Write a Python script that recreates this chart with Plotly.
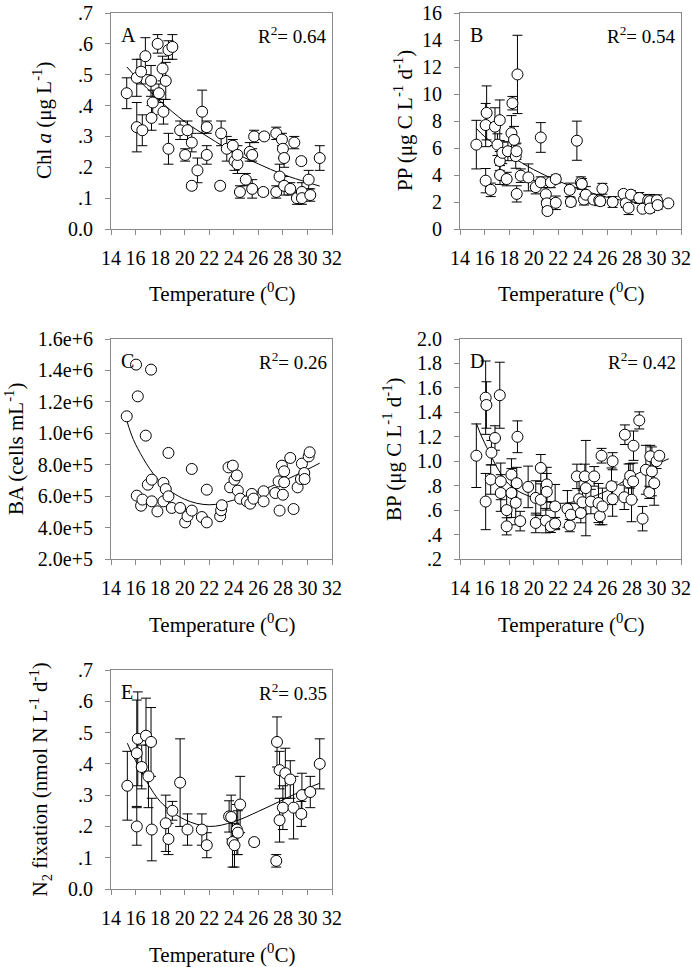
import plotly.graph_objects as go

# ---------------- Panel A: Chl a ----------------
A_temp = [15.28, 16.1, 16.1, 16.55, 16.45, 16.8, 17.26, 17.3, 17.4, 17.8, 17.9, 18.2, 18.46, 18.27,
          18.68, 19.0, 18.68, 19.63, 20.04, 20.23, 20.58, 20.58, 21.04, 21.42, 21.8, 21.8, 22.89,
          22.97, 23.43, 23.92, 24.06, 24.3, 24.3, 24.5, 24.98, 25.3, 25.5, 25.5, 25.66, 26.4, 26.48,
          27.46, 27.46, 27.73, 27.92, 28.0, 28.1, 28.1, 28.6, 28.93, 29.14, 29.5, 29.55, 29.55,
          30.1, 30.23, 31.0]
A_chl = [0.44, 0.49, 0.33, 0.32, 0.51, 0.56, 0.48, 0.36, 0.41, 0.60, 0.44, 0.52, 0.48, 0.38,
         0.58, 0.59, 0.26, 0.32, 0.24, 0.32, 0.28, 0.14, 0.19, 0.38, 0.33, 0.24, 0.14,
         0.31, 0.26, 0.27, 0.22, 0.21, 0.24, 0.12, 0.16, 0.25, 0.24, 0.13, 0.30, 0.12, 0.30,
         0.31, 0.12, 0.17, 0.29, 0.26, 0.23, 0.14, 0.13, 0.28, 0.10, 0.22, 0.12, 0.10,
         0.16, 0.11, 0.23]
A_err = [0.05, 0.06, 0.08, 0.05, 0.04, 0.06, 0.05, 0.04, 0.04, 0.03, 0.03, 0.04, 0.06, 0.04,
         0.03, 0.04, 0.05, 0.03, 0.02, 0.03, 0.03, 0.01, 0.04, 0.07, 0.02, 0.03, 0.01,
         0.04, 0.04, 0.02, 0.03, 0.03, 0.03, 0.02, 0.02, 0.03, 0.02, 0.03, 0.02, 0.01, 0.01,
         0.02, 0.02, 0.04, 0.02, 0.03, 0.03, 0.03, 0.02, 0.02, 0.02, 0.01, 0.03, 0.02,
         0.03, 0.02, 0.04]
A_fit_temp = [15.3, 16, 18, 20, 22, 24, 26, 28, 30, 31]
A_fit = [0.525, 0.494, 0.415, 0.348, 0.296, 0.248, 0.211, 0.177, 0.151, 0.139]

# ---------------- Panel B: PP ----------------
B_temp = [15.33, 16.09, 16.09, 16.17, 16.5, 16.85, 17.05, 17.24, 17.24, 17.26, 17.45, 17.8, 17.9,
          18.19, 18.27, 18.4, 18.54, 18.6, 18.62, 18.68, 18.95, 19.57, 20.17, 20.58, 20.58, 20.99,
          21.07, 21.12, 21.4, 21.8, 21.8, 22.94, 23.03, 23.52, 23.84, 23.92, 24.1, 24.25, 24.87,
          25.34, 25.42, 25.6, 26.43, 27.32, 27.5, 27.73, 27.92, 28.6, 28.87, 29.33, 29.47, 29.47,
          30.04, 30.1, 30.97]
B_pp = [6.25, 3.58, 7.7, 8.6, 2.9, 7.58, 6.25, 8.06, 5.04, 4.0, 5.64, 3.7, 5.76,
        7.1, 9.32, 6.6, 5.4, 5.76, 2.6, 11.45, 3.95, 3.82, 3.1, 3.46, 6.78, 2.57,
        1.9, 1.33, 3.46, 1.94, 3.7, 2.9, 2.0, 6.54, 3.46, 3.34, 2.18, 2.54, 2.18,
        2.13, 2.06, 2.98, 2.0, 2.6, 1.9, 1.57, 2.54, 2.3, 1.5, 2.13, 2.06, 1.52,
        2.13, 1.77, 1.9]
B_err = [1.8, 0.9, 1.6, 2.0, 0.5, 1.4, 0.8, 1.5, 0.7, 0.7, 0.8, 0.5, 0.7,
         1.3, 0.5, 1.0, 0.9, 0.6, 0.6, 2.9, 0.5, 1.0, 0.5, 0.4, 1.1, 0.5,
         0.3, 0.2, 0.4, 0.5, 0.3, 0.5, 0.3, 1.45, 0.4, 0.4, 0.4, 0.6, 0.3,
         0.4, 0.3, 0.4, 0.4, 0.2, 0.3, 0.5, 0.3, 0.4, 0.2, 0.4, 0.5, 0.3,
         0.4, 0.3, 0.1]
B_fit_temp = [15.33, 16, 18, 20, 22, 24, 26, 28, 30, 31]
B_fit = [7.45, 6.85, 5.5, 4.4, 3.55, 2.87, 2.35, 2.0, 1.76, 1.67]

# ---------------- Panel C: BA ----------------
C_temp = [15.28, 16.04, 16.1, 16.18, 16.45, 16.56, 16.83, 17.0, 17.26, 17.32, 17.32, 17.78, 18.27,
          18.27, 18.46, 18.68, 18.68, 18.95, 19.63, 20.04, 20.23, 20.58, 20.58, 21.4, 21.8, 21.8,
          22.89, 22.97, 23.03, 23.57, 23.7, 23.92, 24.06, 24.25, 24.33, 24.52, 25.07, 25.34, 25.47,
          25.61, 26.43, 26.43, 27.38, 27.65, 27.73, 27.92, 28.0, 28.1, 28.1, 28.6, 28.87, 29.2,
          29.47, 29.55, 29.74, 29.77, 30.1, 30.18]
C_ba = [1.108e6, 1.437e6, 6.03e5, 1.235e6, 5.39e5, 5.78e5, 9.85e5, 6.73e5, 1.405e6, 7.05e5, 5.67e5,
        5.03e5, 6.84e5, 5.67e5, 6.45e5, 5.99e5, 8.75e5, 5.25e5, 5.25e5, 4.33e5, 4.72e5, 5.08e5,
        7.73e5, 4.67e5, 4.33e5, 6.41e5, 4.72e5, 5.1e5, 5.42e5, 7.83e5, 6.56e5, 7.94e5, 7.05e5,
        7.32e5, 6.35e5, 5.84e5, 5.67e5, 5.52e5, 6.14e5, 5.84e5, 6.31e5, 5.67e5, 6.2e5, 6.94e5,
        5.08e5, 7.94e5, 6.09e5, 7.58e5, 6.88e5, 8.43e5, 5.18e5, 6.56e5, 7.09e5, 8.07e5, 7.47e5,
        7.09e5, 8.53e5, 8.79e5]
C_fit_temp = [15.28, 16, 18, 20, 22, 24, 26, 28, 30, 31]
C_fit = [1.082e6, 9.3e5, 6.9e5, 5.8e5, 5.45e5, 5.75e5, 6.3e5, 6.95e5, 7.7e5, 8.1e5]

# ---------------- Panel D: BP ----------------
D_temp = [15.33, 16.09, 16.15, 16.09, 16.5, 16.56, 16.85, 17.24, 17.32, 17.32, 17.8, 17.8, 18.19,
          18.19, 18.54, 18.62, 18.68, 18.9, 19.55, 20.17, 20.17, 20.58, 20.58, 20.99, 21.07, 21.07,
          21.4, 21.75, 21.75, 22.75, 22.94, 23.03, 23.52, 23.7, 23.84, 23.98, 24.17, 24.25, 24.66,
          24.93, 25.28, 25.39, 25.53, 25.6, 26.34, 26.43, 26.43, 27.38, 27.43, 27.73, 27.86, 27.97,
          28.1, 28.13, 28.6, 28.87, 29.14, 29.42, 29.5, 29.63, 29.82, 30.01, 30.23]
D_bp = [1.045, 1.52, 1.46, 0.67, 0.85, 1.07, 1.19, 1.54, 0.835, 0.74, 0.467, 0.6, 0.89,
        0.74, 0.66, 0.82, 1.2, 0.51, 0.79, 0.495, 0.7, 0.945, 0.685, 0.514, 0.81, 0.75,
        0.467, 0.63, 0.49, 0.61, 0.473, 0.563, 0.876, 0.69, 0.576, 0.664, 0.876, 0.78, 0.67,
        0.876, 0.658, 0.55, 1.045, 0.63, 0.795, 1.0, 0.69, 0.705, 1.217, 0.827, 0.88, 0.685,
        0.835, 1.127, 1.334, 0.53, 0.93, 0.745, 1.04, 0.917, 0.82, 1.0, 1.045]
D_err = [0.26, 0.3, 0.19, 0.23, 0.12, 0.1, 0.1, 0.27, 0.15, 0.15, 0.07, 0.15, 0.13,
         0.2, 0.18, 0.13, 0.13, 0.08, 0.17, 0.08, 0.14, 0.11, 0.13, 0.1, 0.14, 0.15,
         0.05, 0.18, 0.05, 0.15, 0.05, 0.09, 0.1, 0.15, 0.08, 0.1, 0.1, 0.39, 0.1,
         0.08, 0.16, 0.07, 0.06, 0.15, 0.15, 0.07, 0.14, 0.1, 0.08, 0.15, 0.1, 0.18,
         0.15, 0.12, 0.07, 0.1, 0.2, 0.05, 0.09, 0.2, 0.18, 0.06, 0.02]
D_fit_temp = [15.33, 16, 18, 20, 22, 24, 26, 28, 30, 31]
D_fit = [1.31, 1.15, 0.81, 0.70, 0.655, 0.685, 0.76, 0.875, 0.975, 1.02]

# ---------------- Panel E: N2 fixation ----------------
E_temp = [15.33, 16.1, 16.1, 16.18, 16.5, 16.85, 17.05, 17.26, 17.32, 18.46, 18.68, 19.0, 19.63,
          20.23, 21.4, 21.8, 23.62, 23.79, 23.9, 24.06, 24.25, 24.33, 24.52, 25.66, 27.46, 27.52,
          27.73, 27.73, 28.0, 28.2, 28.6, 28.87, 29.5, 29.55, 30.23, 31.0]
E_n2 = [0.33, 0.2, 0.434, 0.48, 0.39, 0.49, 0.36, 0.47, 0.19, 0.21, 0.16, 0.25, 0.34,
        0.19, 0.19, 0.14, 0.232, 0.23, 0.15, 0.14, 0.19, 0.18, 0.27, 0.15, 0.09, 0.47,
        0.38, 0.22, 0.26, 0.37, 0.35, 0.26, 0.24, 0.30, 0.31, 0.40]
E_err = [0.11, 0.06, 0.17, 0.15, 0.07, 0.12, 0.1, 0.11, 0.1, 0.09, 0.05, 0.03, 0.14,
         0.05, 0.05, 0.04, 0.05, 0.07, 0.08, 0.07, 0.08, 0.07, 0.09, 0.01, 0.02, 0.08,
         0.06, 0.07, 0.07, 0.08, 0.06, 0.1, 0.04, 0.07, 0.05, 0.08]
E_fit_temp = [15.33, 16, 18, 20, 22, 24, 26, 28, 30, 31]
E_fit = [0.466, 0.41, 0.28, 0.222, 0.20, 0.215, 0.248, 0.285, 0.322, 0.338]

# ---------------- Labels ----------------
x_ticks = [14, 16, 18, 20, 22, 24, 26, 28, 30, 32]
A_ticks = [0, 0.1, 0.2, 0.3, 0.4, 0.5, 0.6, 0.7]
A_ticktext = ["0.0", ".1", ".2", ".3", ".4", ".5", ".6", ".7"]
B_ticks = [0, 2, 4, 6, 8, 10, 12, 14, 16]
C_ticks = [2e5, 4e5, 6e5, 8e5, 1.0e6, 1.2e6, 1.4e6, 1.6e6]
C_ticktext = ["2.0e+5", "4.0e+5", "6.0e+5", "8.0e+5", "1.0e+6", "1.2e+6", "1.4e+6", "1.6e+6"]
D_ticks = [0.2, 0.4, 0.6, 0.8, 1.0, 1.2, 1.4, 1.6, 1.8, 2.0]
D_ticktext = [".2", ".4", ".6", ".8", "1.0", "1.2", "1.4", "1.6", "1.8", "2.0"]
E_ticks = A_ticks
E_ticktext = A_ticktext

letters = ["A", "B", "C", "D", "E"]
r2_labels = ["R<sup>2</sup>= 0.64", "R<sup>2</sup>= 0.54", "R<sup>2</sup>= 0.26",
             "R<sup>2</sup>= 0.42", "R<sup>2</sup>= 0.35"]
y_titles = ["Chl <i>a</i> (μg L<sup>-1</sup>)",
            "PP (μg C L<sup>-1</sup> d<sup>-1</sup>)",
            "BA (cells mL<sup>-1</sup>)",
            "BP (μg C L<sup>-1</sup> d<sup>-1</sup>)",
            "N<sub>2</sub> fixation (nmol N L<sup>-1</sup> d<sup>-1</sup>)"]
x_title = "Temperature (<sup>0</sup>C)"

# ---------------- Figure ----------------
W, H = 692, 967
FONT = "Liberation Serif, Times New Roman, serif"
AXC = "#8a8a8a"

# pixel boxes: (left, right, top, bottom)
boxes = [(111, 332, 13, 229), (460, 681, 13, 229),
         (111, 332, 339, 559), (460, 681, 339, 559),
         (111, 332, 670, 889)]
ytitle_x = [43, 404, 15, 393, 40]

panels = [
    (A_temp, A_chl, A_err, A_fit_temp, A_fit, [0, 0.7], A_ticks, A_ticktext),
    (B_temp, B_pp, B_err, B_fit_temp, B_fit, [0, 16], B_ticks, [str(v) for v in B_ticks]),
    (C_temp, C_ba, None, C_fit_temp, C_fit, [2e5, 1.6e6], C_ticks, C_ticktext),
    (D_temp, D_bp, D_err, D_fit_temp, D_fit, [0.2, 2.0], D_ticks, D_ticktext),
    (E_temp, E_n2, E_err, E_fit_temp, E_fit, [0, 0.7], E_ticks, E_ticktext),
]

fig = go.Figure()
annotations = []
layout_axes = {}

for i, (xs, ys, errs, ft, fy, yr, yt, ytt) in enumerate(panels):
    n = "" if i == 0 else str(i + 1)
    xa, ya = "x" + n, "y" + n
    L, R, T, B = boxes[i]
    xdom = [L / W, R / W]
    ydom = [1 - B / H, 1 - T / H]

    fig.add_trace(go.Scatter(x=ft, y=fy, mode="lines", line=dict(color="black", width=1, shape="spline"),
                             xaxis=xa, yaxis=ya, hoverinfo="skip"))
    kw = {}
    if errs is not None:
        kw["error_y"] = dict(type="data", array=errs, color="black", thickness=1, width=5)
    fig.add_trace(go.Scatter(x=xs, y=ys, mode="markers",
                             marker=dict(size=11, color="white", line=dict(color="black", width=1)),
                             xaxis=xa, yaxis=ya, **kw))

    common = dict(showline=True, linecolor=AXC, linewidth=1, mirror=True, ticks="outside",
                  ticklen=5, tickcolor=AXC, tickwidth=1, showgrid=False, zeroline=False,
                  automargin=False, ticklabeloverflow="allow",
                  tickfont=dict(family=FONT, size=20, color="black"))
    layout_axes["xaxis" + n] = dict(domain=xdom, range=[14, 32], tickvals=x_ticks,
                                    ticktext=[str(v) for v in x_ticks], anchor=ya,
                                    ticklabelstandoff=6, **common)
    layout_axes["yaxis" + n] = dict(domain=ydom, range=yr, tickvals=yt, ticktext=ytt,
                                    anchor=xa, ticklabelstandoff=8, **common)

    # panel letter
    annotations.append(dict(text=letters[i], x=(L + 8) / W, y=1 - (T + 22) / H, xref="paper",
                            yref="paper", xanchor="left", yanchor="middle", showarrow=False,
                            font=dict(family=FONT, size=20, color="black")))
    # R^2
    annotations.append(dict(text=r2_labels[i], x=(R - 3) / W, y=1 - (T + 22) / H, xref="paper",
                            yref="paper", xanchor="right", yanchor="middle", showarrow=False,
                            font=dict(family=FONT, size=19, color="black")))
    # x title
    annotations.append(dict(text=x_title, x=(L + R) / 2 / W, y=1 - (B + 64) / H, xref="paper",
                            yref="paper", xanchor="center", yanchor="middle", showarrow=False,
                            font=dict(family=FONT, size=21, color="black")))
    # y title
    annotations.append(dict(text=y_titles[i], x=ytitle_x[i] / W, y=1 - (T + B) / 2 / H,
                            xref="paper", yref="paper", xanchor="center", yanchor="middle",
                            textangle=-90, showarrow=False,
                            font=dict(family=FONT, size=21, color="black")))

fig.update_layout(width=W, height=H, margin=dict(l=0, r=0, t=0, b=0, pad=0, autoexpand=False),
                  paper_bgcolor="white", plot_bgcolor="white", showlegend=False,
                  annotations=annotations, **layout_axes)

fig.write_html("out.html", config={"displayModeBar": False, "responsive": False},
               post_script="document.body.style.margin='0px';document.body.style.overflow='hidden';")
